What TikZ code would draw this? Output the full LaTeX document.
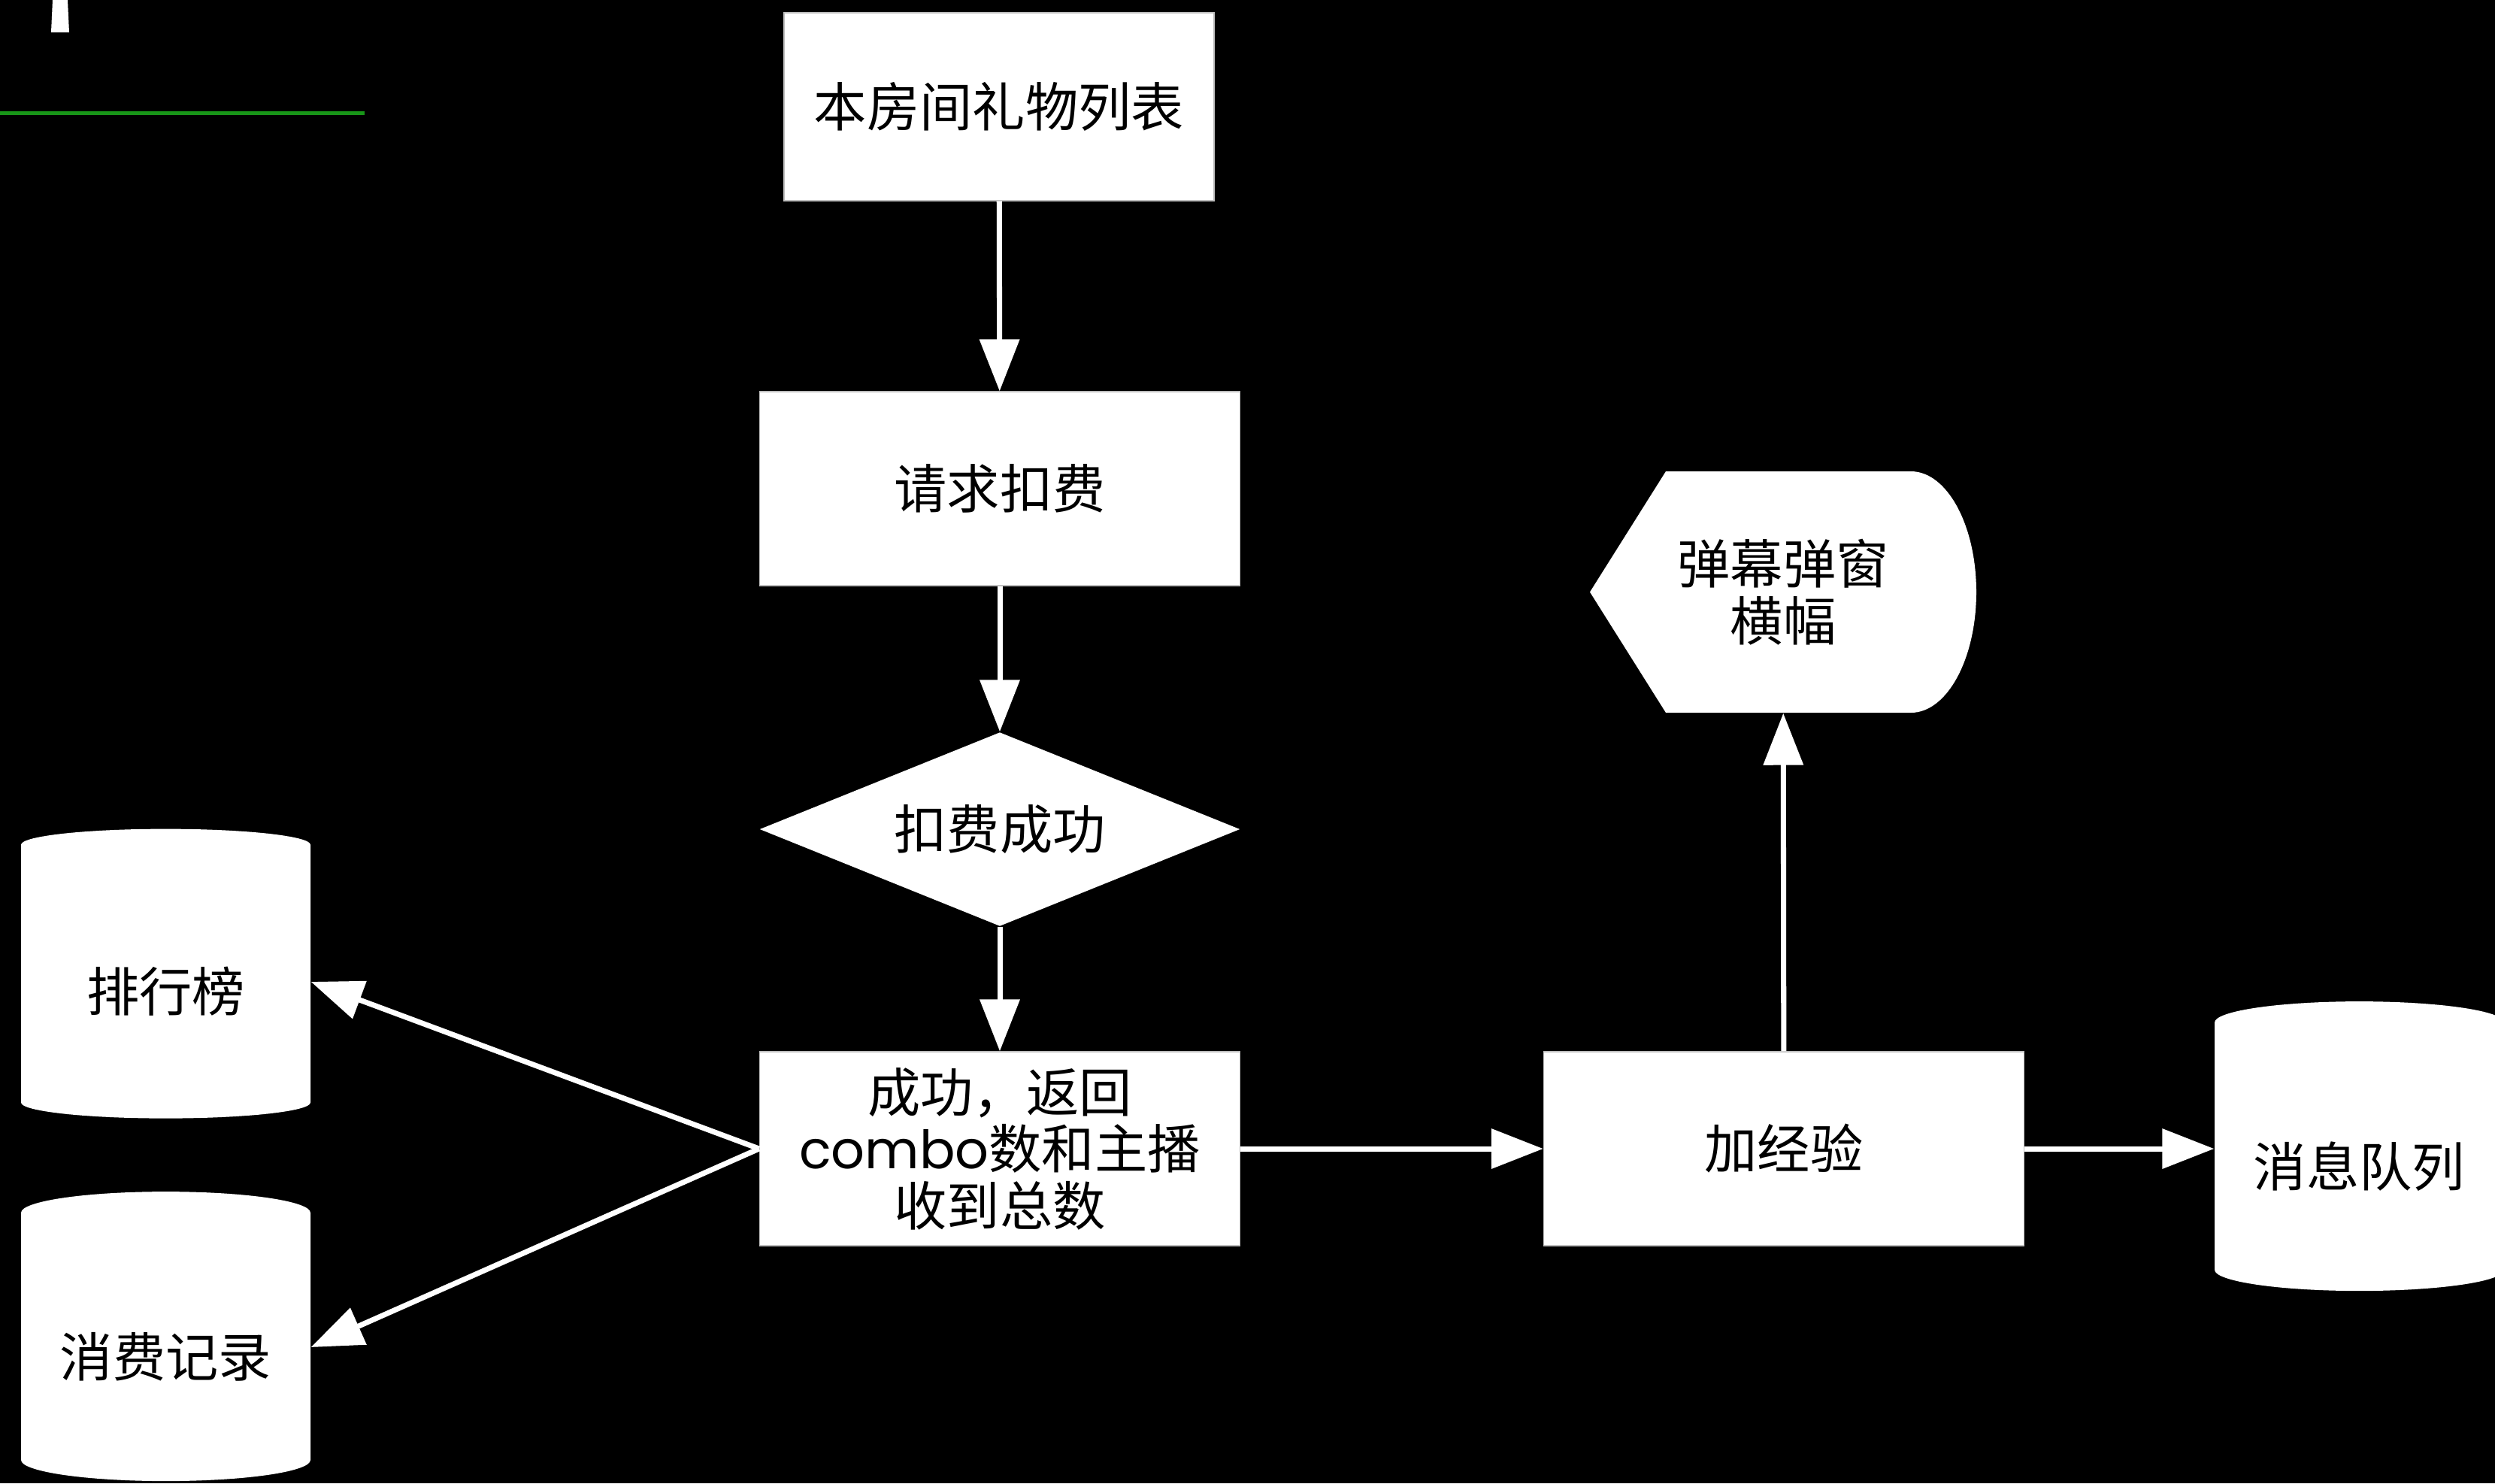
\documentclass[tikz,border=0pt]{standalone}
\usepackage{fontspec}
\setmainfont{Noto Sans CJK SC}
\newfontfamily\latinfont{Poppins}
\usetikzlibrary{shapes.geometric,arrows.meta}
\definecolor{lineg}{RGB}{24,150,24}

\begin{document}
\begin{tikzpicture}[
            font=\fontsize{20pt}{21.5pt}\selectfont,
            box/.style={rectangle, fill=white, draw=black!25, line width=0.4pt, minimum width=6.39cm, minimum height=2.58cm, align=center, inner sep=2pt},
            check/.style={diamond, aspect=2.48, fill=white, minimum width=6.39cm, minimum height=2.58cm, inner sep=0pt},
            store/.style={cylinder, shape border rotate=90, aspect=0.2, fill=white, minimum width=3.85cm, minimum height=3.85cm, inner sep=0pt, text height=0.88cm, text depth=0.085cm},
            flow/.style={white, line width=2pt, -{Triangle[length=0.69cm, width=0.52cm]}},
        ]
        % canvas
        \fill[black] (0,0) rectangle (33.19,-19.73);
        \useasboundingbox (0,0) rectangle (33.19,-19.73);
        % leftovers at the top left
        \fill[white] (0.70,0) -- (0.90,0) -- (0.92,-0.43) -- (0.68,-0.43) -- cycle;
        \draw[lineg, line width=0.05cm] (0,-1.50) -- (4.85,-1.50);
        % banner outline
        \fill[white] (21.15,-7.875) -- (22.16,-6.27) -- (25.42,-6.27)
            arc[start angle=90, end angle=-90, x radius=0.87, y radius=1.605]
            -- (22.16,-9.48) -- cycle;
        % main column
        \node[box, minimum width=5.72cm, minimum height=2.50cm] (gifts) at (13.29,-1.42) {本房间礼物列表};
        \node[box] (charge) at (13.30,-6.50) {请求扣费};
        \node[check] (ok) at (13.30,-11.03) {扣费成功};
        \node[box] (result) at (13.30,-15.28) {成功，返回\\{\latinfont combo}数和主播\\收到总数};
        % right side
        \node[box] (exp) at (23.73,-15.28) {加经验};
        \node[minimum width=5.14cm, minimum height=3.21cm, align=center] (banner) at (23.72,-7.875) {弹幕弹窗\\横幅};
        \node[store] (mq) at (31.385,-15.39) {消息队列};
        % stores on the left
        \node[store] (rank) at (2.205,-13.06) {排行榜};
        \node[store] (log) at (2.205,-17.92) {消费记录};
        % arrows
        \draw[flow] (gifts) -- (charge);
        \draw[flow] (charge) -- (ok);
        \draw[flow] (ok) -- (result);
        \draw[flow] (result) -- (exp);
        \draw[flow] (exp.east) -- (exp.east -| mq.west);
        \draw[flow] (exp) -- (banner);
        \draw[flow] (result.west) -- (rank.east);
        \draw[flow] (result.west) -- (log.east);
\end{tikzpicture}
\end{document}
